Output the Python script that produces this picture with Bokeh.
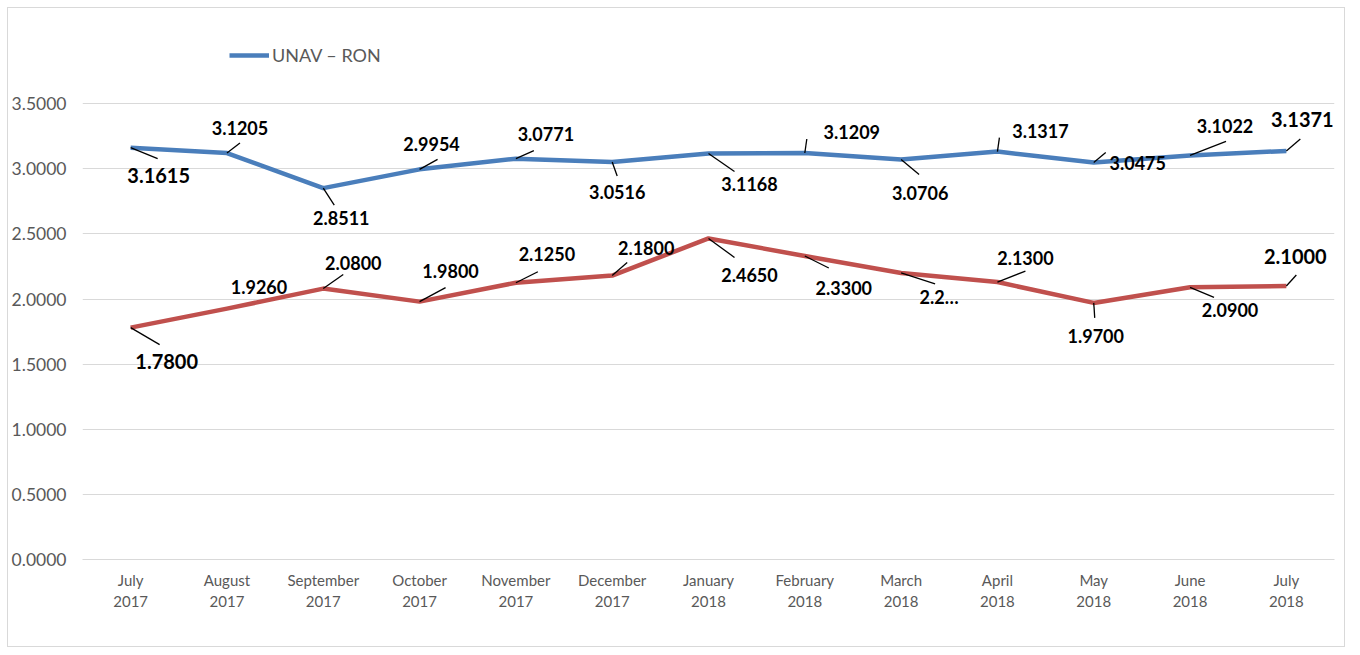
from bokeh.plotting import figure
from bokeh.models import (FixedTicker, NumeralTickFormatter, Legend, LegendItem,
                          ColumnDataSource, Range1d)
from bokeh.core.properties import value
from bokeh.embed import file_html
from bokeh.resources import INLINE

# ---- data ----
months = ["July\n2017", "August\n2017", "September\n2017", "October\n2017",
          "November\n2017", "December\n2017", "January\n2018", "February\n2018",
          "March\n2018", "April\n2018", "May\n2018", "June\n2018", "July\n2018"]
unav_ron = [3.1615, 3.1205, 2.8511, 2.9954, 3.0771, 3.0516, 3.1168, 3.1209,
            3.0706, 3.1317, 3.0475, 3.1022, 3.1371]
red_series = [1.7800, 1.9260, 2.0800, 1.9800, 2.1250, 2.1800, 2.4650, 2.3300,
              2.2000, 2.1300, 1.9700, 2.0900, 2.1000]
red_labels = ["1.7800", "1.9260", "2.0800", "1.9800", "2.1250", "2.1800", "2.4650",
              "2.3300", "2.2…", "2.1300", "1.9700", "2.0900", "2.1000"]
blue_labels = ["%.4f" % v for v in unav_ron]
y_ticks = [0, 0.5, 1.0, 1.5, 2.0, 2.5, 3.0, 3.5]

# label placement (screen px offsets of label centre, leader end) - styling only
blue_lab_off = [(28, 28), (13, -25), (18, 30), (12, -25), (30, -25), (5, 30),
                (41, 30), (47, -21), (19, 33), (43, -21), (44, 0), (35, -29), (16, -31)]
blue_lead = [(27, 11), (13, -10), (11, 17), (18, -10), (18, -8), (5, 14),
             (26, 18), (2, -14), (18, 15), (2, -14), (12, -10), (36, -14), (14, -12)]
blue_big = [True, False, False, False, False, False, False, False, False, False, False, False, True]

red_lab_off = [(36, 34), (32, -22), (30, -26), (31, -31), (31, -29), (34, -28),
               (41, 37), (39, 32), (38, 24), (28, -24), (2, 33), (40, 23), (9, -29)]
red_lead = [(29, 17), (0, 0), (20, -14), (26, -14), (22, -11), (15, -13),
            (26, 19), (24, 12), (34, 11), (28, -11), (1, 15), (24, 10), (10, -11)]
red_big = [True, False, False, False, False, False, False, False, False, False, False, False, True]

BLUE = "#4a7ebb"
RED = "#c0504d"

W, H = 1338, 640
ML, MR, MT, MB = 73, 12, 30, 89
XMIN, XMAX = -0.5, 12.5
YMIN, YMAX = 0.0, 4.0
pxx = (W - ML - MR) / (XMAX - XMIN)
pxy = (H - MT - MB) / (YMAX - YMIN)

p = figure(width=W, height=H, output_backend="svg", toolbar_location=None,
           x_range=Range1d(XMIN, XMAX), y_range=Range1d(YMIN, YMAX),
           min_border_left=ML, min_border_right=MR, min_border_top=MT,
           min_border_bottom=MB)
p.styles = {"border": "1px solid #d9d9d9", "margin-left": "7px", "margin-top": "7px"}
p.outline_line_color = None
p.background_fill_color = "white"

xs = list(range(len(months)))

# axes
p.xaxis.ticker = FixedTicker(ticks=xs)
p.xaxis.major_label_overrides = {i: m for i, m in enumerate(months)}
p.xaxis.axis_line_color = "#d9d9d9"
p.xaxis.major_tick_line_color = None
p.xaxis.minor_tick_line_color = None
p.xaxis.major_tick_out = 0
p.xaxis.major_tick_in = 0
p.xaxis.major_label_standoff = 11
p.xaxis.major_label_text_font = "Lato"
p.xaxis.major_label_text_font_size = "15px"
p.xaxis.major_label_text_color = "#595959"

p.yaxis.ticker = FixedTicker(ticks=y_ticks)
p.yaxis.formatter = NumeralTickFormatter(format="0.0000")
p.yaxis.axis_line_color = None
p.yaxis.major_tick_line_color = None
p.yaxis.minor_tick_line_color = None
p.yaxis.major_tick_out = 0
p.yaxis.major_tick_in = 0
p.yaxis.major_label_standoff = 16
p.yaxis.major_label_text_font = "Lato"
p.yaxis.major_label_text_font_size = "17.5px"
p.yaxis.major_label_text_color = "#595959"

p.xgrid.grid_line_color = None
p.ygrid.grid_line_color = "#d9d9d9"
p.ygrid.grid_line_width = 1

# lines
rb = p.line(xs, unav_ron, line_color=BLUE, line_width=4.5, line_join="round")
p.line(xs, red_series, line_color=RED, line_width=4.5, line_join="round")


def add_labels(ys, labels, lab_off, lead, big):
    x0, y0, x1, y1 = [], [], [], []
    for i, (yv, (lx, ly)) in enumerate(zip(ys, lead)):
        if lx == 0 and ly == 0:
            continue
        x0.append(i)
        y0.append(yv)
        x1.append(i + lx / pxx)
        y1.append(yv - ly / pxy)
    p.segment(x0, y0, x1, y1, line_color="black", line_width=1.3)
    for sel, size in ((False, "18px"), (True, "20px")):
        idx = [i for i in range(len(ys)) if big[i] == sel]
        src = ColumnDataSource(dict(
            x=[i for i in idx], y=[ys[i] for i in idx],
            t=[labels[i] for i in idx],
            dx=[lab_off[i][0] for i in idx], dy=[lab_off[i][1] for i in idx]))
        p.text(x="x", y="y", text="t", x_offset="dx", y_offset="dy", source=src,
               text_font=value("Lato"), text_font_style="bold",
               text_font_size=size, text_color="black",
               text_align="center", text_baseline="middle")


add_labels(unav_ron, blue_labels, blue_lab_off, blue_lead, blue_big)
add_labels(red_series, red_labels, red_lab_off, red_lead, red_big)

legend = Legend(items=[LegendItem(label="UNAV – RON", renderers=[rb])],
                location=(147, 493), orientation="horizontal",
                padding=0, margin=0, spacing=0, glyph_width=40, glyph_height=20,
                label_standoff=3, border_line_color=None,
                background_fill_alpha=0,
                label_text_font="Lato", label_text_font_size="18px",
                label_text_color="#595959")
p.add_layout(legend, "center")

open("out.html", "w").write(file_html(p, INLINE))
